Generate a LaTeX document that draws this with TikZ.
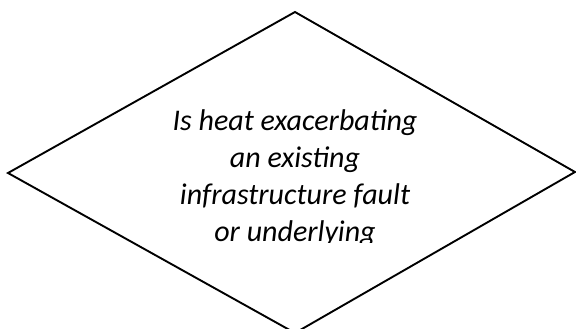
\documentclass[tikz,border=0pt]{standalone}
\usepackage{fontspec}
\setmainfont{Carlito}
\begin{document}
\begin{tikzpicture}[x=1pt,y=-1pt,
  shapeline/.style={line width=1.9pt,line join=miter,black},
  qtext/.style={font=\fontsize{30}{36.7}\selectfont\itshape,align=center,inner sep=0pt,anchor=base}]
\useasboundingbox (0,0) rectangle (576,329);
\coordinate (T) at (295,12);
\coordinate (L) at (8,173);
\coordinate (R) at (575,172);
\coordinate (B) at (295,333);
\draw[shapeline] (T) -- (R) -- (B) -- (L) -- cycle;
\begin{scope}
\clip (120,90) rectangle (470,242);
\node[qtext] (q) at (295,241) {Is heat exacerbating\\an existing\\infrastructure fault\\or underlying};
\end{scope}
\end{tikzpicture}
\end{document}
